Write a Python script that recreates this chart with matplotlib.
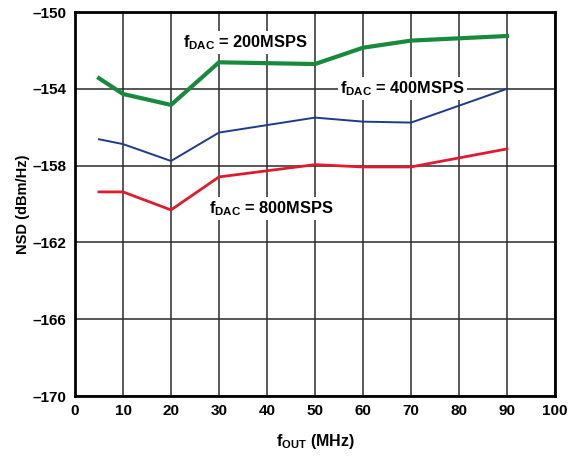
import matplotlib
matplotlib.use("Agg")
import matplotlib.pyplot as plt

# output frequency (MHz)
f_out = [5, 10, 20, 30, 50, 60, 70, 90]
# NSD (dBm/Hz) per DAC clock
nsd_200 = [-153.45, -154.27, -154.84, -152.62, -152.71, -151.86, -151.49, -151.25]
nsd_400 = [-156.63, -156.88, -157.76, -156.28, -155.50, -155.71, -155.76, -154.00]
nsd_800 = [-159.37, -159.37, -160.31, -158.59, -157.95, -158.07, -158.07, -157.13]

x_ticks = list(range(0, 101, 10))
y_ticks = [-170, -166, -162, -158, -154, -150]

plt.rcParams['font.family'] = ['Liberation Sans', 'DejaVu Sans']
plt.rcParams['font.weight'] = 'bold'
plt.rcParams['mathtext.fontset'] = 'custom'
plt.rcParams['mathtext.rm'] = 'Liberation Sans:bold'
plt.rcParams['mathtext.bf'] = 'Liberation Sans:bold'
plt.rcParams['mathtext.default'] = 'rm'

fig = plt.figure(figsize=(5.8, 4.58), dpi=100)
ax = fig.add_axes([75 / 580, 1 - 396 / 458, 480 / 580, 384 / 458])

ax.plot(f_out, nsd_200, color='#188a3e', lw=3.0, zorder=3)
ax.plot(f_out, nsd_400, color='#1d3a8c', lw=1.4, zorder=3)
ax.plot(f_out, nsd_800, color='#e01b2f', lw=2.0, zorder=3)

ax.set_xlim(0, 100)
ax.set_ylim(-170, -150)
ax.set_xticks(x_ticks)
ax.set_yticks(y_ticks)
ax.set_xticklabels([str(v) for v in x_ticks], fontsize=11, fontweight='bold')
ax.set_yticklabels([str(v).replace('-', '\u2013') for v in y_ticks],
                   fontsize=11, fontweight='bold')
ax.tick_params(length=0, pad=6)
ax.grid(True, color='#2a2a2a', lw=1.1)
for s in ax.spines.values():
    s.set_linewidth(2.0)
    s.set_color('black')

box = dict(facecolor='white', edgecolor='none', pad=1.5)
lab_size = 11.8
ax.text(22.4, -151.6, r'$f_{DAC}$ = 200MSPS', fontsize=lab_size, fontweight='bold',
        ha='left', va='center', bbox=box, zorder=4)
ax.text(55.2, -154.0, r'$f_{DAC}$ = 400MSPS', fontsize=lab_size, fontweight='bold',
        ha='left', va='center', bbox=box, zorder=4)
ax.text(28.0, -160.25, r'$f_{DAC}$ = 800MSPS', fontsize=lab_size, fontweight='bold',
        ha='left', va='center', bbox=box, zorder=4)

ax.set_ylabel('NSD (dBm/Hz)', fontsize=10.5, fontweight='bold', labelpad=2)
ax.set_xlabel(r'$f_{OUT}$ (MHz)', fontsize=11.5, fontweight='bold', labelpad=10)

fig.savefig('out.png', dpi=100)
